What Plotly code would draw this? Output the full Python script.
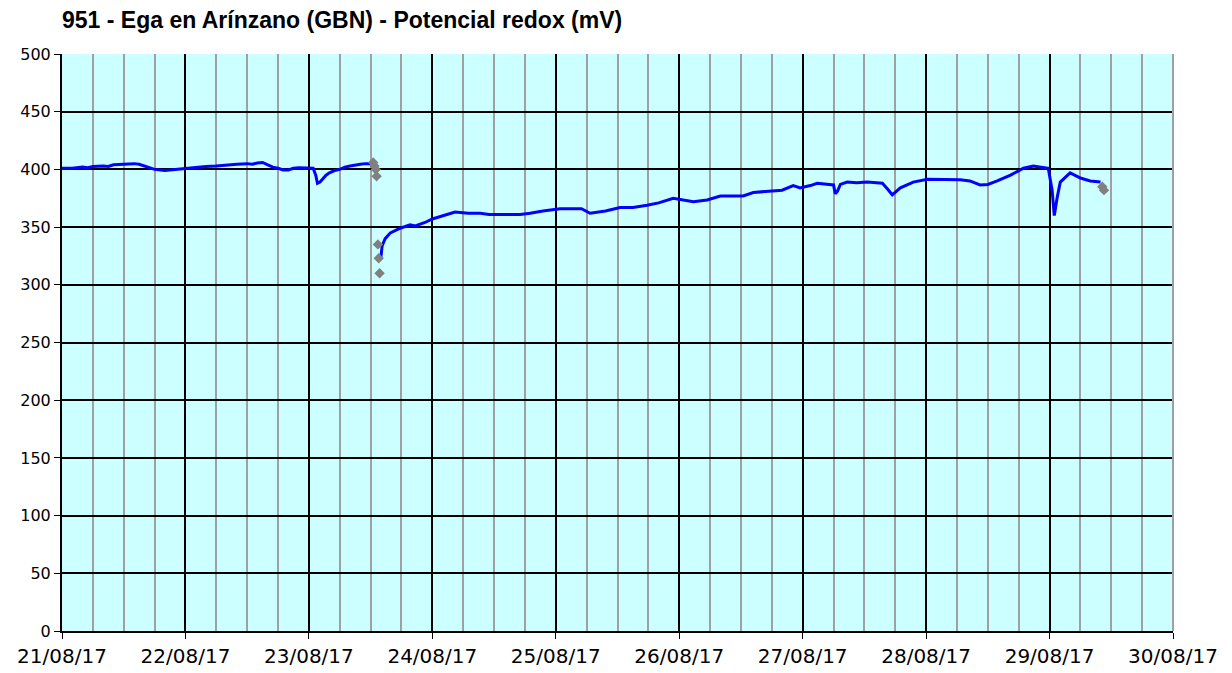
import plotly.graph_objects as go

# --- data ---
t_seg1 = [
    "2017-08-21 00:00", "2017-08-21 02:00", "2017-08-21 04:00", "2017-08-21 05:00",
    "2017-08-21 06:00", "2017-08-21 08:00", "2017-08-21 09:00", "2017-08-21 10:00",
    "2017-08-21 12:00", "2017-08-21 14:00", "2017-08-21 15:00", "2017-08-21 16:00",
    "2017-08-21 17:00", "2017-08-21 18:00", "2017-08-21 20:00", "2017-08-21 21:00",
    "2017-08-21 22:00", "2017-08-22 00:00", "2017-08-22 02:00", "2017-08-22 04:00",
    "2017-08-22 06:00", "2017-08-22 07:00", "2017-08-22 08:00", "2017-08-22 10:00",
    "2017-08-22 12:00", "2017-08-22 13:00", "2017-08-22 14:00", "2017-08-22 15:00",
    "2017-08-22 16:00", "2017-08-22 17:00", "2017-08-22 18:00", "2017-08-22 19:00",
    "2017-08-22 20:00", "2017-08-22 21:00", "2017-08-22 22:00", "2017-08-23 00:00",
    "2017-08-23 00:50", "2017-08-23 01:20", "2017-08-23 01:40", "2017-08-23 02:10",
    "2017-08-23 02:40", "2017-08-23 03:20", "2017-08-23 04:00", "2017-08-23 05:00",
    "2017-08-23 06:00", "2017-08-23 07:00", "2017-08-23 08:00", "2017-08-23 09:00",
    "2017-08-23 10:00", "2017-08-23 11:00", "2017-08-23 12:00",
]
v_seg1 = [
    401, 401, 402, 401.5,
    402.5, 403, 402.5, 404,
    404.5, 405, 404.5, 403,
    401, 400, 399, 399.5,
    400, 401, 402, 402.5,
    403, 403.5, 404, 404.5,
    405, 404.5, 405.5, 406,
    404, 402, 401, 399.5,
    399.5, 401, 401.5, 401.5,
    401, 395, 388, 389,
    392, 395, 397, 399,
    400, 402, 403, 404,
    404.5, 405, 405,
]

t_seg2 = [
    "2017-08-23 14:00", "2017-08-23 14:15", "2017-08-23 14:50", "2017-08-23 15:50",
    "2017-08-23 17:45", "2017-08-23 19:40", "2017-08-23 20:40", "2017-08-23 22:35",
    "2017-08-24 00:00", "2017-08-24 01:30", "2017-08-24 03:30", "2017-08-24 04:25",
    "2017-08-24 07:00", "2017-08-24 09:20", "2017-08-24 11:00", "2017-08-24 13:10",
    "2017-08-24 15:00", "2017-08-24 17:05", "2017-08-24 19:00", "2017-08-24 21:30",
    "2017-08-25 00:50", "2017-08-25 03:45", "2017-08-25 05:00", "2017-08-25 06:40",
    "2017-08-25 08:00", "2017-08-25 09:40", "2017-08-25 12:30", "2017-08-25 15:00",
    "2017-08-25 17:45", "2017-08-25 20:00", "2017-08-25 22:50", "2017-08-26 00:30",
    "2017-08-26 02:45", "2017-08-26 05:25", "2017-08-26 08:00", "2017-08-26 10:00",
    "2017-08-26 12:25", "2017-08-26 14:25", "2017-08-26 18:15", "2017-08-26 20:00",
    "2017-08-26 22:10", "2017-08-26 23:30", "2017-08-27 01:30", "2017-08-27 02:50",
    "2017-08-27 06:00", "2017-08-27 06:20", "2017-08-27 06:45", "2017-08-27 07:20",
    "2017-08-27 08:40", "2017-08-27 10:30", "2017-08-27 12:35", "2017-08-27 15:30",
    "2017-08-27 16:30", "2017-08-27 17:25", "2017-08-27 19:00", "2017-08-27 21:30",
    "2017-08-28 00:15", "2017-08-28 03:20", "2017-08-28 06:40", "2017-08-28 08:30",
    "2017-08-28 10:30", "2017-08-28 12:00", "2017-08-28 13:50", "2017-08-28 16:25",
    "2017-08-28 18:55", "2017-08-28 20:50", "2017-08-28 22:30", "2017-08-28 23:45",
    "2017-08-29 00:30", "2017-08-29 00:55", "2017-08-29 01:30", "2017-08-29 02:05",
    "2017-08-29 04:00", "2017-08-29 06:00", "2017-08-29 07:55", "2017-08-29 09:00",
    "2017-08-29 09:55",
]
v_seg2 = [
    324, 334, 340, 345,
    349, 352, 351, 354,
    357, 359, 362, 363,
    362, 362, 361, 361,
    361, 361, 362, 364,
    366, 366, 366, 362,
    363, 364, 367, 367,
    369, 371, 375, 374,
    372, 373.5, 377, 377,
    377, 380, 381, 382,
    386, 384, 386, 388,
    386.5, 379, 381, 387,
    389, 388.5, 389, 388,
    383, 378, 384, 389,
    391.5, 391.5, 391, 390,
    386.5, 387, 390, 395,
    401, 403, 402, 401,
    382, 360, 376, 389,
    397, 392.5, 390, 389.5,
    389,
]

t_flag = [
    "2017-08-23 12:30", "2017-08-23 12:45", "2017-08-23 13:00", "2017-08-23 13:10",
    "2017-08-23 13:25", "2017-08-23 13:35", "2017-08-23 13:45",
    "2017-08-29 10:15", "2017-08-29 10:35",
]
v_flag = [406, 403, 400, 394, 335, 323, 310, 385, 382]

title_text = "951 - Ega en Arínzano (GBN) - Potencial redox (mV)"

fig = go.Figure()
fig.add_trace(go.Scatter(x=t_seg1, y=v_seg1, mode="lines",
                         line=dict(color="#0000ff", width=3), showlegend=False))
fig.add_trace(go.Scatter(x=t_seg2, y=v_seg2, mode="lines",
                         line=dict(color="#0000ff", width=3), showlegend=False))
fig.add_trace(go.Scatter(x=t_flag, y=v_flag, mode="markers",
                         marker=dict(symbol="diamond", color="#808080", size=8),
                         showlegend=False))

fig.add_shape(type="line", xref="paper", yref="paper", x0=1, x1=1, y0=0, y1=1,
              line=dict(color="#a0a0a0", width=2))

W, H = 1224, 665
fig.update_layout(
    width=W, height=H,
    margin=dict(l=54, r=59, t=46, b=42),
    paper_bgcolor="white", plot_bgcolor="#ccffff",
    title=dict(text="<b>" + title_text + "</b>", x=54/W, xanchor="left",
               y=1 - 12/H, yanchor="middle",
               font=dict(family="Liberation Sans, Arial", size=23, color="black")),
    font=dict(family="DejaVu Sans, Verdana", size=16, color="black"),
    xaxis=dict(type="date", range=["2017-08-21 00:00", "2017-08-30 00:00"],
               dtick=86400000, tick0="2017-08-21", tickformat="%d/%m/%y",
               tickfont=dict(size=20), automargin=False,
               showgrid=True, gridcolor="black", gridwidth=1.5,
               minor=dict(dtick=6*3600000, showgrid=True, gridcolor="#a0a0a0", gridwidth=2),
               ticks="outside", ticklen=6, tickcolor="black",
               showline=True, linecolor="black", linewidth=2, zeroline=False),
    yaxis=dict(range=[0, 500], dtick=50, showgrid=True, gridcolor="black", gridwidth=1.5,
               ticks="outside", ticklen=6, tickcolor="black", automargin=False,
               showline=True, linecolor="black", linewidth=2, zeroline=False),
)

fig.write_html("out.html")
